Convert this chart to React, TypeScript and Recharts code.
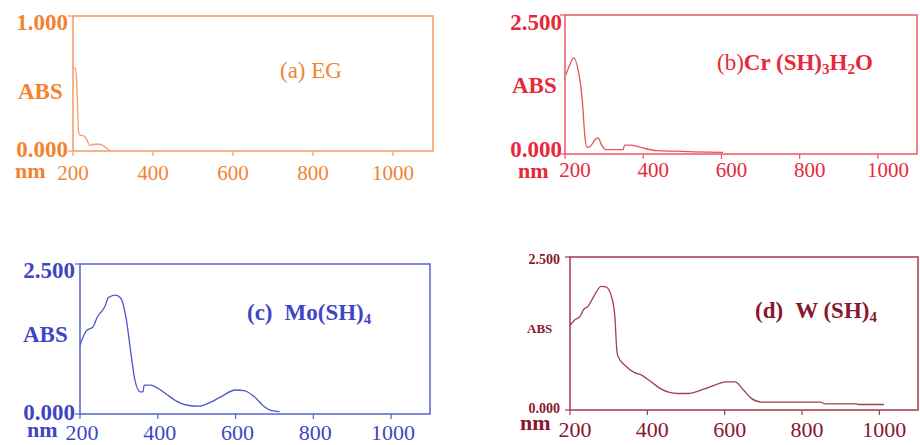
import React from "react"
import { LineChart, Line, XAxis, YAxis, ReferenceArea } from "recharts"

const SERIF = '"Liberation Serif", "Times New Roman", serif'

// wavelength ticks, shared by all four panels
const xTicks = [200, 400, 600, 800, 1000]

// (a) EG
const egNm = [200, 206, 209, 211, 214, 216, 228, 235, 242, 252, 266, 275, 284, 292]
const egAbs = [0.62, 0.61, 0.52, 0.38, 0.14, 0.12, 0.11, 0.08, 0.04, 0.05, 0.05, 0.04, 0.02, 0.0]

// (b) Cr(SH)3H2O
const crNm = [202, 212, 222, 236, 240, 246, 250, 256, 265, 277, 285, 293, 305, 349, 352, 369, 398, 434, 485, 528, 604]
const crAbs = [1.42, 1.6, 1.73, 1.42, 1.24, 0.8, 0.38, 0.12, 0.14, 0.26, 0.29, 0.17, 0.08, 0.08, 0.16, 0.16, 0.11, 0.06, 0.05, 0.04, 0.03]

// (c) Mo(SH)4
const moNm = [200, 218, 232, 245, 264, 273, 291, 305, 318, 332, 341, 355, 362, 365, 382, 400, 424, 449, 473, 506, 531, 563, 600, 622, 648, 674, 691, 713]
const moAbs = [1.15, 1.4, 1.44, 1.62, 1.79, 1.94, 1.98, 1.93, 1.62, 0.96, 0.57, 0.37, 0.37, 0.48, 0.48, 0.43, 0.32, 0.21, 0.15, 0.13, 0.18, 0.29, 0.4, 0.39, 0.29, 0.12, 0.06, 0.04]

// (d) W(SH)4
const wNm = [200, 212, 226, 235, 246, 262, 280, 293, 307, 316, 321, 324, 344, 367, 385, 410, 436, 478, 504, 546, 589, 602, 627, 648, 669, 695, 758, 847, 860, 940, 945, 1012]
const wAbs = [1.38, 1.47, 1.53, 1.64, 1.69, 1.86, 2.02, 2.01, 1.86, 1.53, 0.98, 0.88, 0.72, 0.61, 0.57, 0.46, 0.34, 0.27, 0.27, 0.34, 0.44, 0.46, 0.46, 0.33, 0.19, 0.13, 0.13, 0.13, 0.1, 0.1, 0.09, 0.09]

const zip = (nm: number[], abs: number[]) => nm.map((n, i) => ({ nm: n, abs: abs[i] }))

type Cfg = {
  data: { nm: number; abs: number }[]
  yMax: number
  box: { left: number; top: number; width: number; height: number }
  margin: { top: number; right: number; bottom: number; left: number }
  text: string
  frame: string
  line: string
  xFs: number
  xDy: number
  xDx: number
  yFs: number
  yDx: number
  yDyTop: number
  yDyBottom: number
}

function Panel({ cfg }: { cfg: Cfg }) {
  const { box } = cfg
  return (
    <div style={{ position: "absolute", left: box.left, top: box.top }}>
      <LineChart width={box.width} height={box.height} data={cfg.data} margin={cfg.margin}>
        <XAxis
          dataKey="nm"
          type="number"
          domain={[200, 1100]}
          ticks={xTicks}
          interval={0}
          axisLine={false}
          tickLine={{ stroke: cfg.frame, strokeWidth: 1.2 }}
          tickSize={5}
          tickMargin={0}
          height={30}
          tick={(p: any) => (
            <text
              x={p.x + cfg.xDx}
              y={p.y + cfg.xDy}
              textAnchor="middle"
              fontSize={cfg.xFs}
              fontFamily={SERIF}
              fill={cfg.text}
            >
              {p.payload.value}
            </text>
          )}
        />
        <YAxis
          type="number"
          domain={[0, cfg.yMax]}
          ticks={[0, cfg.yMax]}
          axisLine={false}
          tickLine={{ stroke: cfg.frame, strokeWidth: 1.2 }}
          tickSize={5}
          tickMargin={0}
          width={40}
          tick={(p: any) => (
            <text
              x={p.x + cfg.yDx}
              y={p.y + (p.payload.value === 0 ? cfg.yDyBottom : cfg.yDyTop)}
              textAnchor="end"
              fontSize={cfg.yFs}
              fontWeight="bold"
              fontFamily={SERIF}
              fill={cfg.text}
            >
              {Number(p.payload.value).toFixed(3)}
            </text>
          )}
        />
        <ReferenceArea
          x1={200}
          x2={1100}
          y1={0}
          y2={cfg.yMax}
          fill="none"
          stroke={cfg.frame}
          strokeWidth={1.5}
          ifOverflow="visible"
        />
        <Line
          type="monotone"
          dataKey="abs"
          stroke={cfg.line}
          strokeWidth={1.3}
          dot={false}
          isAnimationActive={false}
        />
      </LineChart>
    </div>
  )
}

const ORANGE = "#F5822F"
const RED = "#E8283A"
const BLUE = "#3F46C4"
const MAROON = "#8B1630"

const panels: Cfg[] = [
  {
    data: zip(egNm, egAbs),
    yMax: 1,
    box: { left: 0, top: 0, width: 460, height: 222 },
    margin: { top: 16, right: 27, bottom: 41, left: 33 },
    text: ORANGE,
    frame: "#F6995E",
    line: "#F39C74",
    xFs: 21,
    xDy: 24,
    xDx: 0,
    yFs: 23,
    yDx: 0,
    yDyTop: 14,
    yDyBottom: 6,
  },
  {
    data: zip(crNm, crAbs),
    yMax: 2.5,
    box: { left: 460, top: 0, width: 460, height: 222 },
    margin: { top: 15, right: 3, bottom: 38, left: 65 },
    text: RED,
    frame: "#EC5562",
    line: "#E9505C",
    xFs: 21,
    xDy: 18,
    xDx: 10,
    yFs: 23,
    yDx: 2,
    yDyTop: 15,
    yDyBottom: 3,
  },
  {
    data: zip(moNm, moAbs),
    yMax: 2.5,
    box: { left: 0, top: 222, width: 460, height: 223 },
    margin: { top: 42, right: 30, bottom: 1, left: 40 },
    text: BLUE,
    frame: "#5860D0",
    line: "#4D56CC",
    xFs: 22,
    xDy: 21,
    xDx: 2,
    yFs: 23,
    yDx: 0,
    yDyTop: 14,
    yDyBottom: 6,
  },
  {
    data: zip(wNm, wAbs),
    yMax: 2.5,
    box: { left: 460, top: 222, width: 460, height: 223 },
    margin: { top: 35, right: 2, bottom: 5, left: 70 },
    text: MAROON,
    frame: "#A33A4E",
    line: "#A3404F",
    xFs: 22,
    xDy: 22,
    xDx: 5,
    yFs: 14,
    yDx: -5,
    yDyTop: 7,
    yDyBottom: 3,
  },
]

function Labels() {
  const b = { fontWeight: "bold" as const }
  return (
    <svg
      width={920}
      height={445}
      style={{ position: "absolute", left: 0, top: 0, pointerEvents: "none" }}
      fontFamily={SERIF}
    >
      {/* (a) */}
      <text x={18} y={99} fontSize={23} fill={ORANGE} {...b}>ABS</text>
      <text x={15} y={178} fontSize={22} fill={ORANGE} {...b}>nm</text>
      <text x={280} y={78} fontSize={23} fill={ORANGE}>(a) EG</text>

      {/* (b) */}
      <text x={512} y={93} fontSize={23} fill={RED} {...b}>ABS</text>
      <text x={518} y={178} fontSize={22} fill={RED} {...b}>nm</text>
      <text x={717} y={70} fontSize={23} fill={RED}>
        (b)
        <tspan {...b}>Cr (SH)</tspan>
        <tspan {...b} fontSize={15} dy={4}>3</tspan>
        <tspan {...b} dy={-4}>H</tspan>
        <tspan {...b} fontSize={15} dy={4}>2</tspan>
        <tspan {...b} dy={-4}>O</tspan>
      </text>

      {/* (c) */}
      <text x={23} y={342} fontSize={23} fill={BLUE} {...b}>ABS</text>
      <text x={27} y={437} fontSize={22} fill={BLUE} {...b}>nm</text>
      <text x={247} y={320} fontSize={23} fill={BLUE} {...b}>
        (c)
        <tspan dx={12}>Mo(SH)</tspan>
        <tspan fontSize={15} dy={4}>4</tspan>
      </text>

      {/* (d) */}
      <text x={527} y={333} fontSize={13} fill={MAROON} {...b}>ABS</text>
      <text x={520} y={430} fontSize={22} fill={MAROON} {...b}>nm</text>
      <text x={755} y={318} fontSize={23} fill={MAROON} {...b}>
        (d)
        <tspan dx={12}>W (SH)</tspan>
        <tspan fontSize={15} dy={4}>4</tspan>
      </text>
    </svg>
  )
}

export default function App() {
  return (
    <div
      style={{
        position: "absolute",
        left: 0,
        top: 0,
        width: 920,
        height: 445,
        overflow: "hidden",
        background: "#fff",
      }}
    >
      {panels.map((cfg, i) => (
        <Panel key={i} cfg={cfg} />
      ))}
      <Labels />
    </div>
  )
}
